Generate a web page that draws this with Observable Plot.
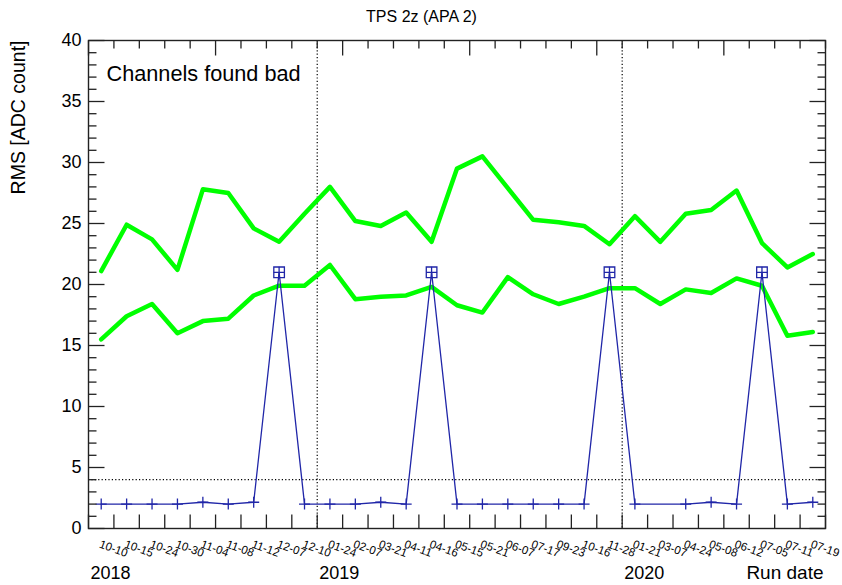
<!DOCTYPE html>
<html><head><meta charset="utf-8">
<script src="https://cdn.jsdelivr.net/npm/d3@7"></script>
<script src="https://cdn.jsdelivr.net/npm/@observablehq/plot@0.6"></script>
<style>html,body{margin:0;padding:0;background:#fff}svg{display:block}</style>
</head><body><div id="chart"></div>
<script>
// ---- data ----
const runDates = ["10-10","10-15","10-24","10-30","11-04","11-08","11-12","12-07","12-10",
  "01-24","02-07","03-21","04-11","04-16","05-15","05-21","06-07","07-17","09-23","10-16","11-28",
  "01-21","03-07","04-24","05-08","06-12","07-05","07-11","07-19"];
const rmsUpper = [21.1,24.9,23.7,21.2,27.8,27.5,24.6,23.5,25.8,28.0,25.2,24.8,25.9,23.5,29.5,
  30.5,27.9,25.3,25.1,24.8,23.3,25.6,23.5,25.8,26.1,27.7,23.4,21.4,22.5];
const rmsLower = [15.5,17.4,18.4,16.0,17.0,17.2,19.1,19.9,19.9,21.6,18.8,19.0,19.1,19.8,18.3,
  17.7,20.6,19.2,18.4,19.0,19.7,19.7,18.4,19.6,19.3,20.5,19.9,15.8,16.1];
const badChannels = [2.0,2.0,2.0,2.0,2.15,2.0,2.15,21,2.0,2.0,2.0,2.15,2.0,21,2.0,2.0,2.0,2.0,
  2.0,2.0,21,2.0,2.0,2.0,2.15,2.0,21,2.0,2.15];
const runsWithoutMarker = ["03-07"];
const years = ["2018","2019","2020"];
const yearFirstBin = [0, 9, 21];
const threshold = [4];
const yTickLabels = [0,5,10,15,20,25,30,35,40];

const nBins = runDates.length;
const rows = runDates.map((d, i) => ({bin: i + 0.5, date: d, up: rmsUpper[i], lo: rmsLower[i], bad: badChannels[i]}));
const binEdges = d3.range(0, nBins + 1);
const binCenters = rows.map(r => r.bin);
const yMinor = d3.range(0, 41).filter(v => v % 5 !== 0);
const yMajor = yTickLabels;

const seg = (dx, dy) => ({draw(ctx) { ctx.moveTo(0, 0); ctx.lineTo(dx, dy); }});
const plusSym = {draw(ctx, size) { const r = Math.sqrt(size / Math.PI); ctx.moveTo(-r, 0); ctx.lineTo(r, 0); ctx.moveTo(0, -r); ctx.lineTo(0, r); }};
const boxSym = {draw(ctx, size) { const r = Math.sqrt(size / Math.PI); ctx.rect(-r, -r, 2 * r, 2 * r); }};

const blue = "#2026a8";
const axisColor = "#222";
const tick = (data, opts) => Plot.dot(data, {r: 1, fill: "none", stroke: axisColor, strokeWidth: 1.3, ...opts});

const chart = Plot.plot({
  width: 842, height: 585,
  marginLeft: 88, marginRight: 17, marginTop: 40, marginBottom: 57,
  style: {fontFamily: "'Liberation Sans', Arial, Helvetica, sans-serif", background: "#fff", color: "#000"},
  x: {domain: [0, nBins], label: null},
  y: {domain: [0, 40], label: null},
  marks: [
    Plot.ruleY(threshold, {stroke: "#000", strokeWidth: 1.2, strokeDasharray: "1.2,2.2"}),
    Plot.ruleX(yearFirstBin.slice(1), {stroke: "#000", strokeWidth: 1.2, strokeDasharray: "1.2,2.2"}),
    Plot.line(rows, {x: "bin", y: "up", stroke: "#00ff00", strokeWidth: 4.5}),
    Plot.line(rows, {x: "bin", y: "lo", stroke: "#00ff00", strokeWidth: 4.5}),
    Plot.line(rows, {x: "bin", y: "bad", stroke: blue, strokeWidth: 1.3}),
    Plot.dot(rows.filter(r => !runsWithoutMarker.includes(r.date)), {x: "bin", y: "bad", symbol: plusSym, r: 5.5, fill: "none", stroke: blue, strokeWidth: 1.3}),
    Plot.dot(rows.filter(r => r.bad >= 20), {x: "bin", y: "bad", symbol: boxSym, r: 5.3, fill: "none", stroke: blue, strokeWidth: 1.3}),
    // inner tick marks (ROOT style)
    tick(yMajor, {y: d => d, frameAnchor: "left", symbol: seg(16, 0)}),
    tick(yMinor, {y: d => d, frameAnchor: "left", symbol: seg(8, 0)}),
    tick(yMajor, {y: d => d, frameAnchor: "right", symbol: seg(-16, 0)}),
    tick(yMinor, {y: d => d, frameAnchor: "right", symbol: seg(-8, 0)}),
    tick(binEdges, {x: d => d, frameAnchor: "bottom", symbol: seg(0, -14)}),
    tick(binEdges.filter(e => e % 5 !== 0), {x: d => d, frameAnchor: "top", symbol: seg(0, 8)}),
    tick(binEdges.filter(e => e % 5 === 0), {x: d => d, frameAnchor: "top", symbol: seg(0, 15)}),
    Plot.frame({stroke: axisColor, strokeWidth: 1.4}),
    // axes
    Plot.axisY(yTickLabels, {tickSize: 0, tickPadding: 7, fontSize: 18, label: null}),
    Plot.axisX(binCenters, {tickSize: 0, tickPadding: 11, tickRotate: 20, textAnchor: "start", lineAnchor: "top",
      fontSize: 11.5, label: null, tickFormat: d => runDates[Math.floor(d)]}),
    // texts
    Plot.text(yearFirstBin, {x: d => d, text: (d, i) => years[i], frameAnchor: "bottom", textAnchor: "start", lineAnchor: "bottom", dx: 2, dy: 50.5, fontSize: 18}),
    Plot.text(["Run date"], {frameAnchor: "bottom-right", textAnchor: "end", lineAnchor: "bottom", dx: -2, dy: 50.5, fontSize: 19}),
    Plot.text(["TPS 2z (APA 2)"], {frameAnchor: "top", lineAnchor: "bottom", dx: -35.5, dy: -18.3, fontSize: 16}),
    Plot.text(["Channels found bad"], {frameAnchor: "top-left", textAnchor: "start", lineAnchor: "bottom", dx: 18, dy: 40, fontSize: 21.7}),
    Plot.text(["RMS [ADC count]"], {frameAnchor: "top-left", rotate: -90, textAnchor: "end", lineAnchor: "middle", dx: -70, dy: 0, fontSize: 19.5})
  ]
});
document.getElementById("chart").appendChild(chart);
</script>
</body></html>
